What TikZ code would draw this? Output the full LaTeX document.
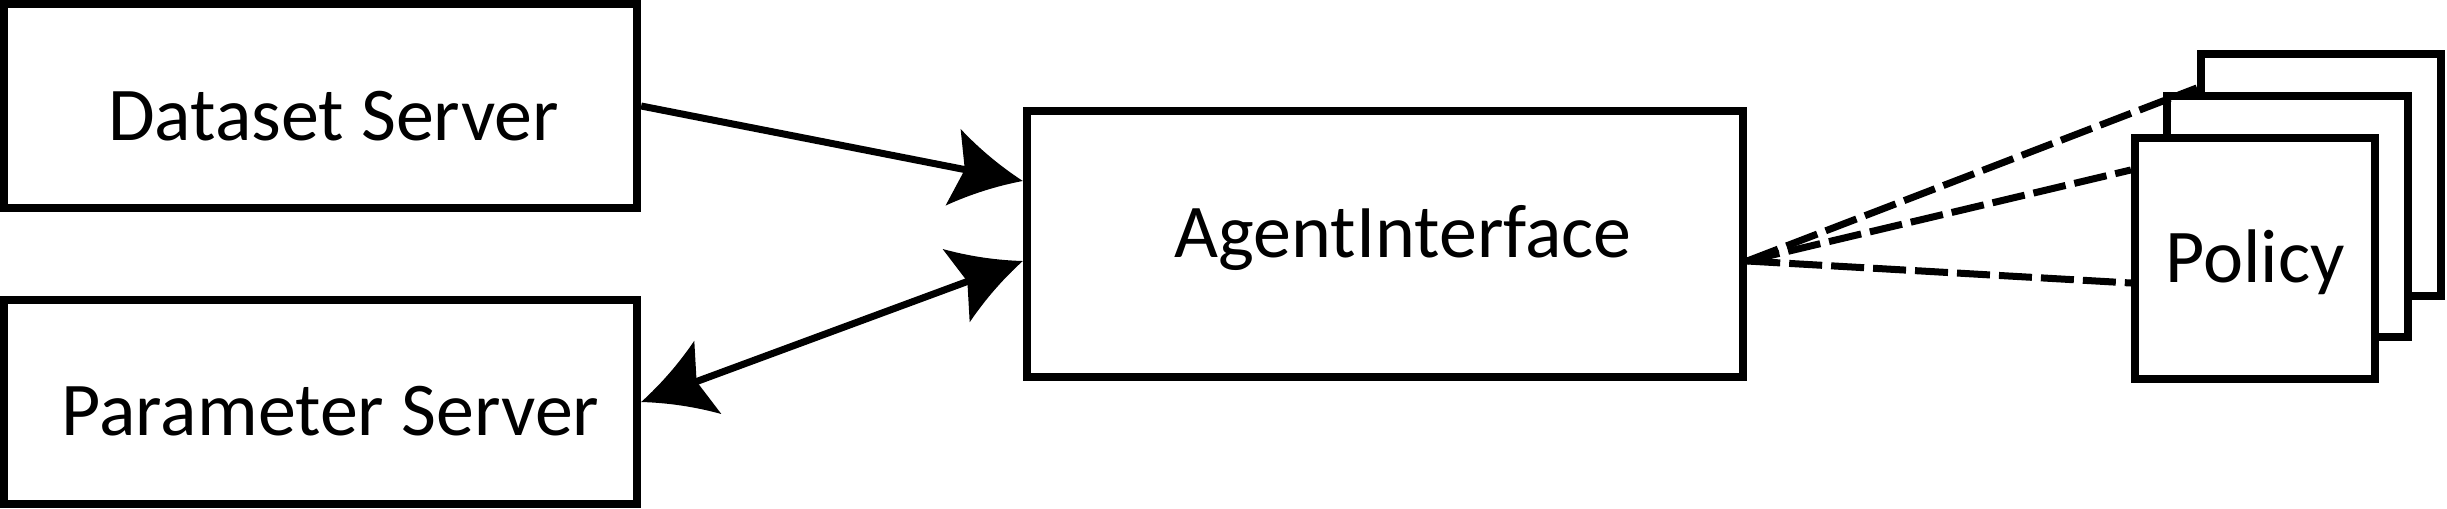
\documentclass[tikz,border=0pt]{standalone}
\usepackage{fontspec}
\setmainfont{Carlito}
\usetikzlibrary{arrows.meta}
\pgfdeclarearrow{
  name = Swoop,
  setup code = {
    \pgfarrowssettipend{0pt}
    \pgfarrowssetlineend{-12pt}
    \pgfarrowssetvisualbackend{-20.2pt}
    \pgfarrowssetbackend{-20.2pt}
    \pgfarrowshullpoint{0pt}{0pt}
    \pgfarrowshullpoint{-20.2pt}{11.1pt}
    \pgfarrowshullpoint{-20.2pt}{-11.1pt}
  },
  drawing code = {
    \pgfpathmoveto{\pgfqpoint{0pt}{0pt}}
    \pgfpathcurveto{\pgfqpoint{-6.7pt}{2.7pt}}{\pgfqpoint{-13.5pt}{6.3pt}}{\pgfqpoint{-20.2pt}{11.1pt}}
    \pgfpathlineto{\pgfqpoint{-16.8pt}{0pt}}
    \pgfpathlineto{\pgfqpoint{-20.2pt}{-11.1pt}}
    \pgfpathcurveto{\pgfqpoint{-13.5pt}{-6.3pt}}{\pgfqpoint{-6.7pt}{-2.7pt}}{\pgfqpoint{0pt}{0pt}}
    \pgfpathclose
    \pgfusepathqfill
  }
}
\tikzset{
  box/.style={draw=black, line width=0.08cm, fill=white, inner sep=0pt,
    text depth=0pt, font=\fontsize{21.6pt}{25pt}\selectfont},
  conn/.style={draw=black, line width=0.07cm},
  dashconn/.style={draw=black, line width=0.07cm, dash pattern=on 0.33cm off 0.09cm},
}
\begin{document}
\begin{tikzpicture}[x=0.01cm,y=-0.01cm]
\useasboundingbox (0,0) rectangle (2447,509);
\node[box, minimum width=6.33cm, minimum height=2.04cm, text height=0.68cm] (ds) at (320.5,106) {\hspace*{0.26cm}Dataset Server};
\node[box, minimum width=6.33cm, minimum height=2.04cm, text height=0.66cm] (ps) at (320.5,402) {\hspace*{0.2cm}Parameter Server};
\node[box, minimum width=7.16cm, minimum height=2.66cm, text height=0.26cm] (ai) at (1385,244) {\hspace*{0.36cm}AgentInterface};
\node[box, minimum width=2.40cm, minimum height=2.41cm] (p3) at (2321,175) {};
\node[box, minimum width=2.41cm, minimum height=2.41cm] (p2) at (2287.5,216.5) {};
\node[box, minimum width=2.40cm, minimum height=2.41cm, text height=0.47cm] (p1) at (2255,258.5) {Policy};
\draw[conn, -{Swoop}] (ds.east) -- ([yshift=0.63cm]ai.west);
\draw[conn, {Swoop}-{Swoop}] (ps.east) -- ([yshift=-0.17cm]ai.west);
\coordinate (src) at ([yshift=-0.17cm]ai.east);
\draw[dashconn] (src) -- ([yshift=0.87cm]p3.west);
\draw[dashconn] (src) -- ([yshift=0.885cm]p1.west);
\draw[dashconn] (src) -- ([yshift=-0.245cm]p1.west);
\end{tikzpicture}
\end{document}
